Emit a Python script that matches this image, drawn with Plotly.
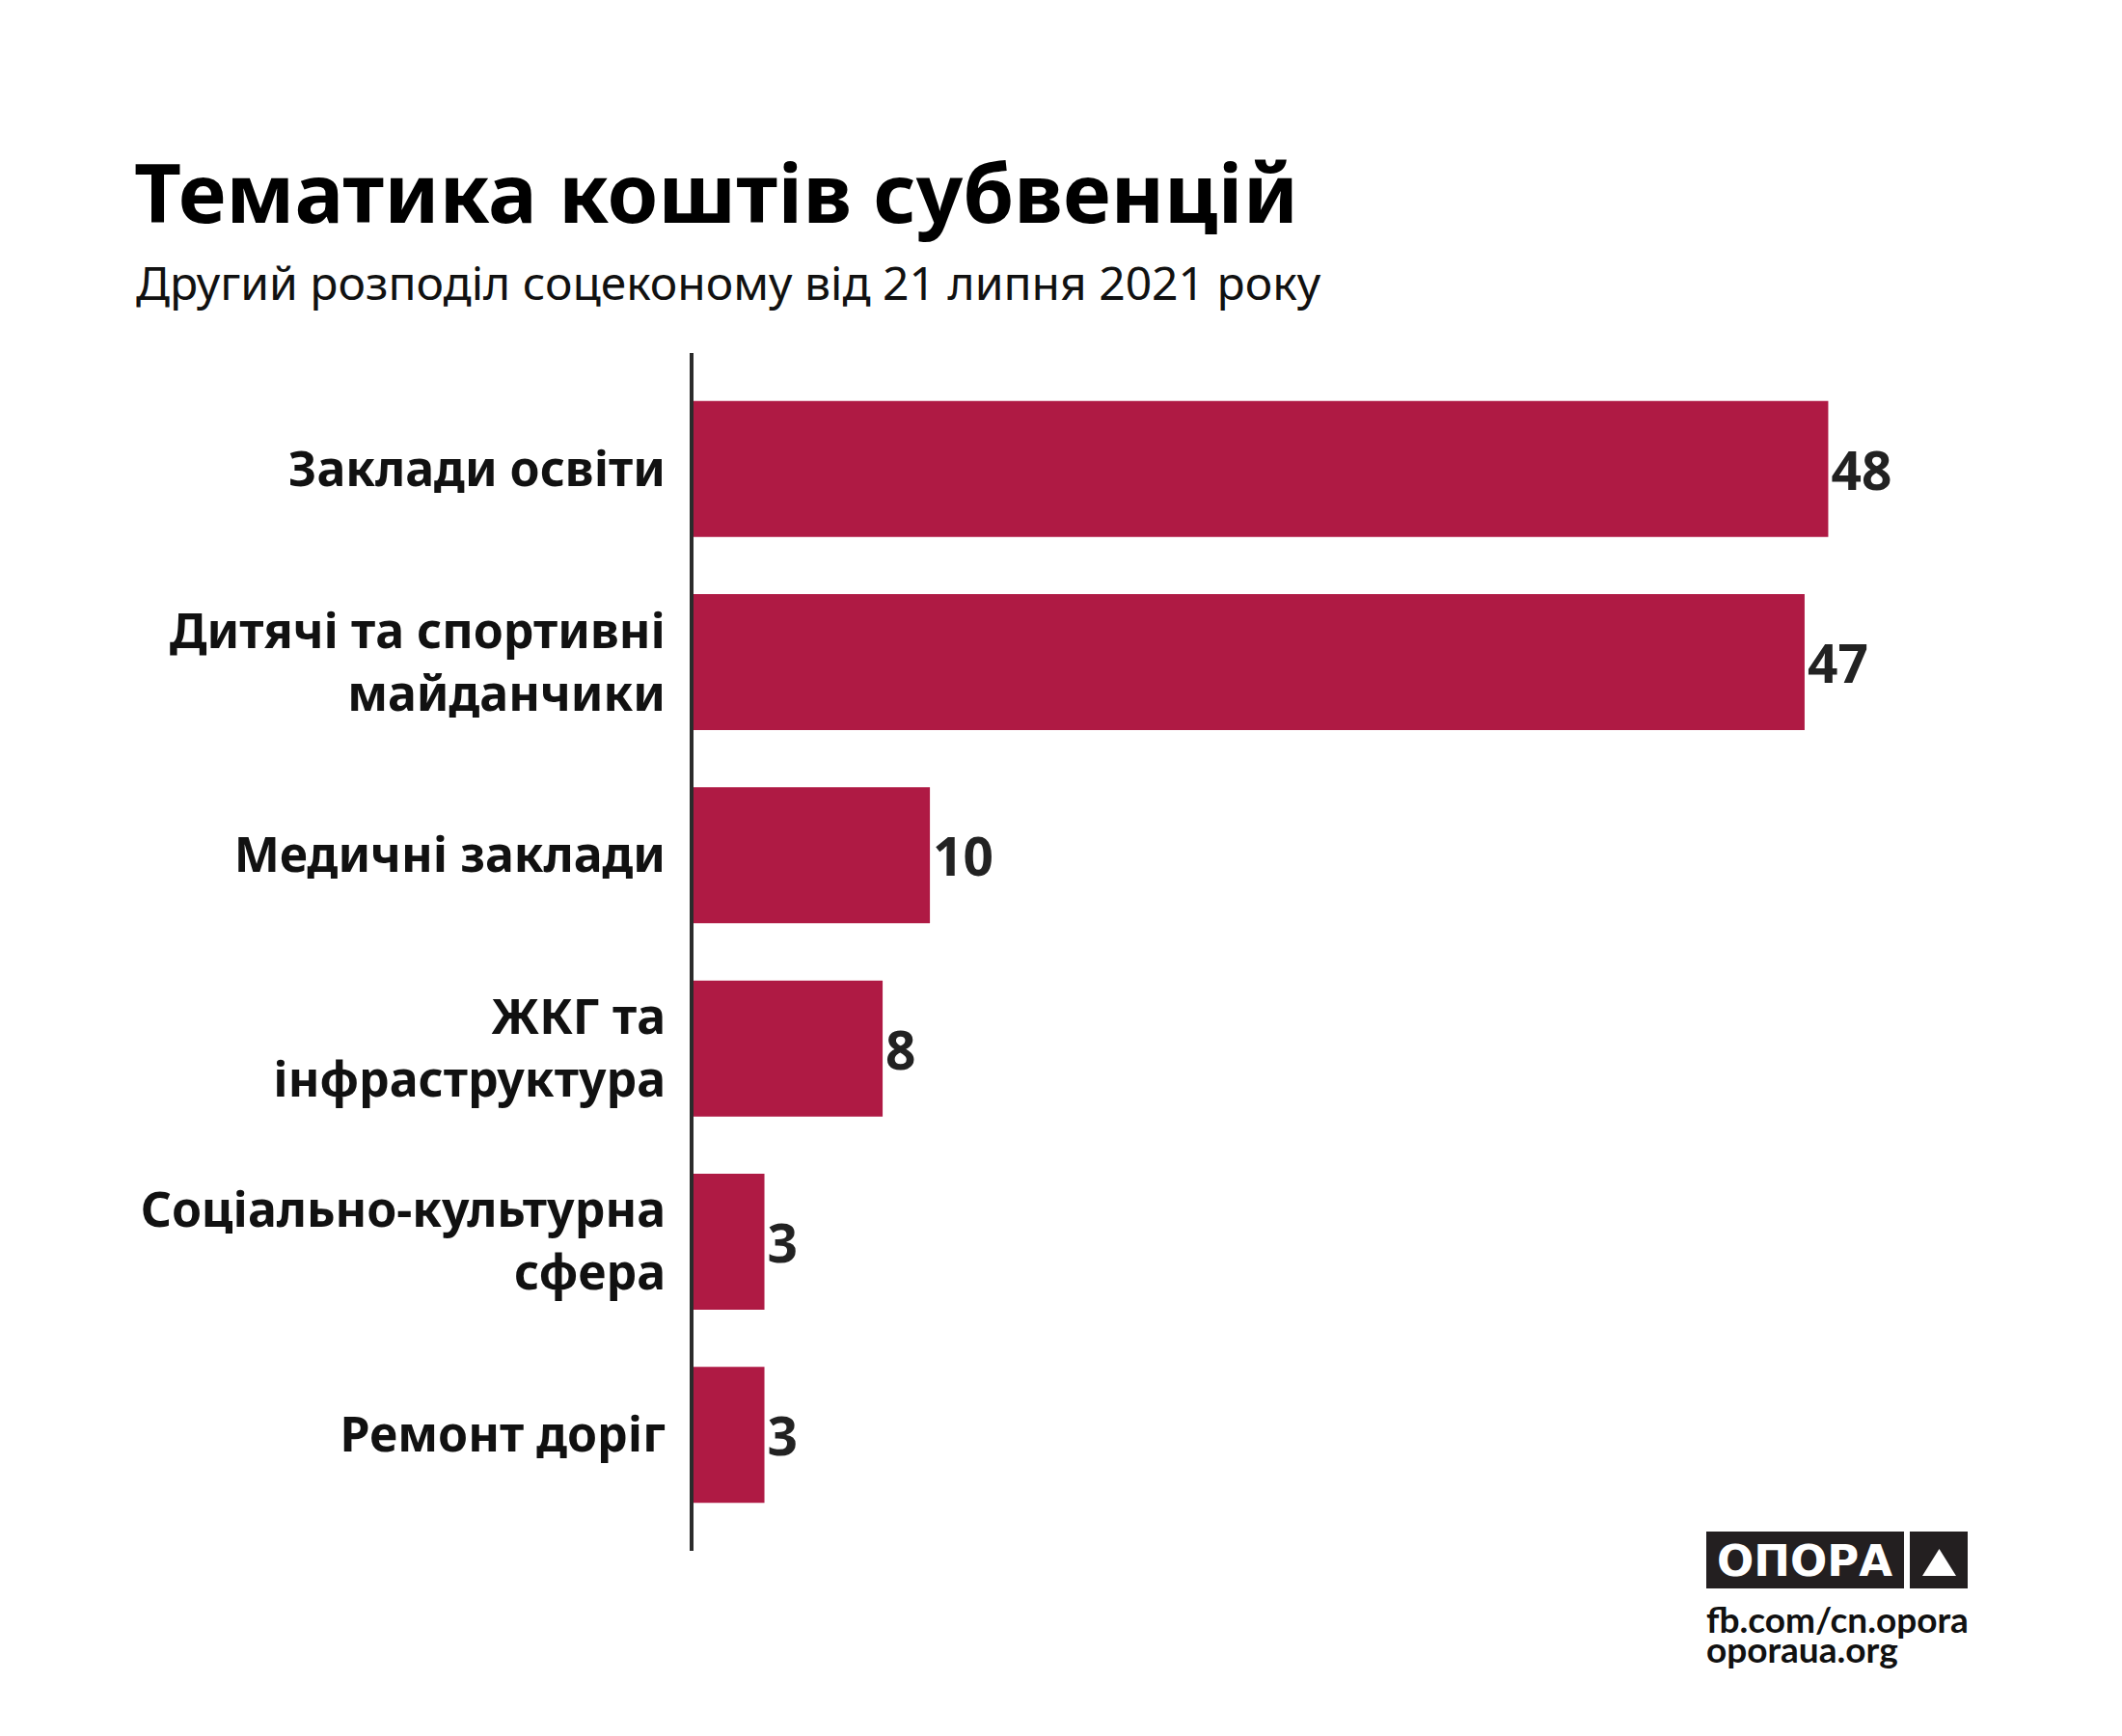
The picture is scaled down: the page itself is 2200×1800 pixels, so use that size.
import plotly.graph_objects as go

# categories top to bottom, counts of subvention items
categories = [
    "Заклади освіти",
    "Дитячі та спортивні<br>майданчики",
    "Медичні заклади",
    "ЖКГ та<br>інфраструктура",
    "Соціально-культурна<br>сфера",
    "Ремонт доріг",
]
counts = [48, 47, 10, 8, 3, 3]

title_text = "Тематика коштів субвенцій"
subtitle_text = "Другий розподіл соцеконому від 21 липня 2021 року"
brand_name = "ОПОРА"
brand_links = ["fb.com/cn.opora", "oporaua.org"]

BAR_COLOR = "#AF1A44"
W, H = 2200, 1800
L, R, T, B = 711, 141, 358, 200
PW, PH = W - L - R, H - T - B


def xp(px):
    return (px - L) / PW


def yp(py):
    return (H - B - py) / PH


fig = go.Figure(go.Bar(
    x=counts, y=categories, orientation="h",
    marker=dict(color=BAR_COLOR, line=dict(width=0)),
    text=counts, textposition="outside", cliponaxis=False,
    textfont=dict(family="Noto Sans", size=55, color="#222222", weight="bold"),
    hoverinfo="skip",
))

annotations = [
    dict(text=title_text, x=xp(129), y=yp(190), xanchor="left", yanchor="middle",
         font=dict(family="Noto Sans", size=85, color="#000000", weight="bold")),
    dict(text=subtitle_text, x=xp(131), y=yp(285), xanchor="left", yanchor="middle",
         font=dict(family="Noto Sans", size=48, color="#111111")),
    dict(text=brand_name, x=xp(1863), y=yp(1610), xanchor="center", yanchor="middle",
         font=dict(family="DejaVu Sans", size=45, color="#ffffff", weight="bold")),
    dict(text=brand_links[0], x=xp(1759), y=yp(1670), xanchor="left", yanchor="middle",
         font=dict(family="Lato", size=37, color="#111111", weight="bold")),
    dict(text=brand_links[1], x=xp(1759), y=yp(1701), xanchor="left", yanchor="middle",
         font=dict(family="Lato", size=37, color="#111111", weight="bold")),
]
for a in annotations:
    a.update(xref="paper", yref="paper", showarrow=False)

shapes = [
    dict(type="rect", xref="paper", yref="paper", x0=xp(1761), x1=xp(1966),
         y0=yp(1639), y1=yp(1580), fillcolor="#231f20", line=dict(width=0), layer="below"),
    dict(type="rect", xref="paper", yref="paper", x0=xp(1972), x1=xp(2032),
         y0=yp(1639), y1=yp(1580), fillcolor="#231f20", line=dict(width=0), layer="below"),
    dict(type="path", xref="paper", yref="paper",
         path=f"M {xp(1985)} {yp(1626)} L {xp(2020)} {yp(1626)} L {xp(2002.5)} {yp(1598)} Z",
         fillcolor="#ffffff", line=dict(width=0)),
]

fig.update_layout(
    width=W, height=H,
    margin=dict(l=L, r=R, t=T, b=B),
    paper_bgcolor="white", plot_bgcolor="white",
    bargap=0.296, showlegend=False,
    annotations=annotations, shapes=shapes,
    xaxis=dict(range=[0, 55], visible=False, fixedrange=True),
    yaxis=dict(
        type="category", range=[5.6, -0.6],
        showline=True, linecolor="#2b2b2b", linewidth=4,
        showgrid=False, zeroline=False, ticks="",
        ticklabelstandoff=15,
        tickfont=dict(family="Noto Sans", size=50, color="#111111", weight="bold"),
        fixedrange=True,
    ),
)

fig.write_html("out.html")
